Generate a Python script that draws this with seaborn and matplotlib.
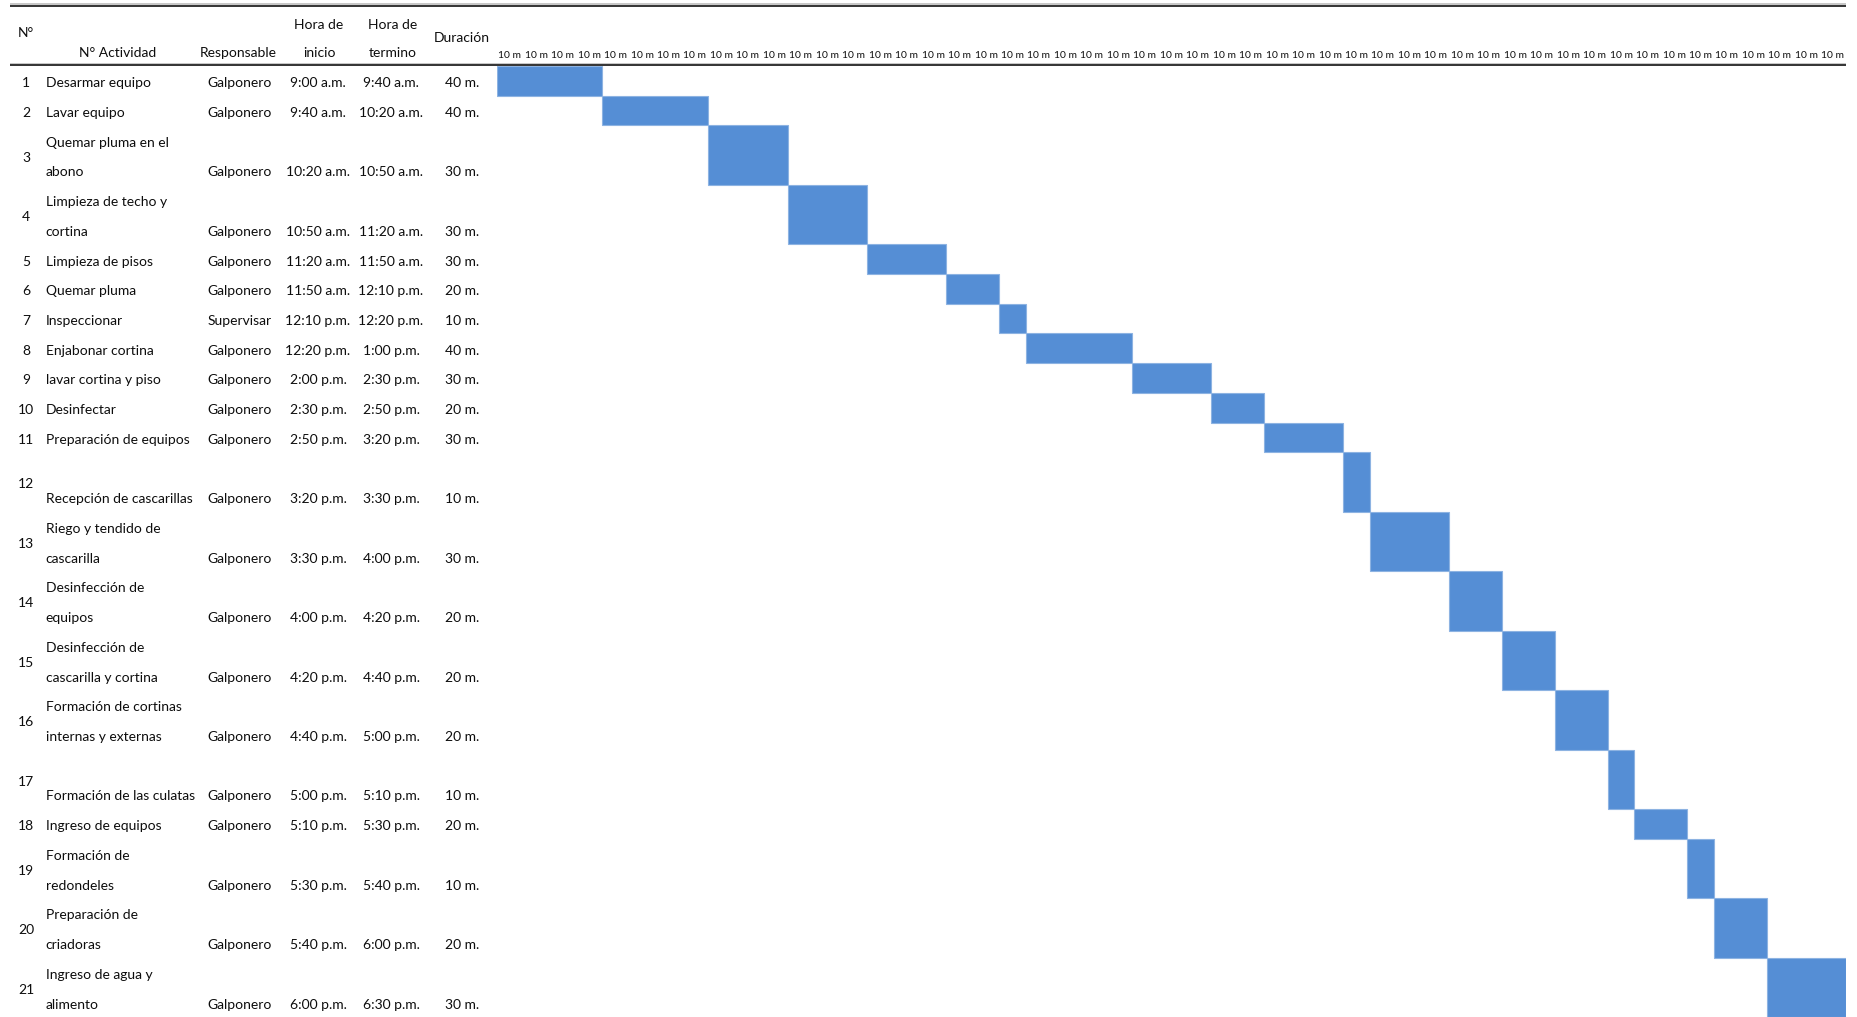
import matplotlib
matplotlib.use("Agg")
import matplotlib.pyplot as plt
import numpy as np
import seaborn as sns

# ---- schedule data -------------------------------------------------------
numeros = list(range(1, 22))
actividades = [
    "Desarmar equipo",
    "Lavar equipo",
    "Quemar pluma en el\nabono",
    "Limpieza de techo y\ncortina",
    "Limpieza de pisos",
    "Quemar pluma",
    "Inspeccionar",
    "Enjabonar cortina",
    "lavar cortina y piso",
    "Desinfectar",
    "Preparación de equipos",
    "\nRecepción de cascarillas",
    "Riego y tendido de\ncascarilla",
    "Desinfección de\nequipos",
    "Desinfección de\ncascarilla y cortina",
    "Formación de cortinas\ninternas y externas",
    "\nFormación de las culatas",
    "Ingreso de equipos",
    "Formación de\nredondeles",
    "Preparación de\ncriadoras",
    "Ingreso de agua y\nalimento",
]
responsables = ["Galponero"] * 6 + ["Supervisar"] + ["Galponero"] * 14
hora_inicio = [
    "9:00 a.m.", "9:40 a.m.", "10:20 a.m.", "10:50 a.m.", "11:20 a.m.",
    "11:50 a.m.", "12:10 p.m.", "12:20 p.m.", "2:00 p.m.", "2:30 p.m.",
    "2:50 p.m.", "3:20 p.m.", "3:30 p.m.", "4:00 p.m.", "4:20 p.m.",
    "4:40 p.m.", "5:00 p.m.", "5:10 p.m.", "5:30 p.m.", "5:40 p.m.",
    "6:00 p.m.",
]
hora_termino = [
    "9:40 a.m.", "10:20 a.m.", "10:50 a.m.", "11:20 a.m.", "11:50 a.m.",
    "12:10 p.m.", "12:20 p.m.", "1:00 p.m.", "2:30 p.m.", "2:50 p.m.",
    "3:20 p.m.", "3:30 p.m.", "4:00 p.m.", "4:20 p.m.", "4:40 p.m.",
    "5:00 p.m.", "5:10 p.m.", "5:30 p.m.", "5:40 p.m.", "6:00 p.m.",
    "6:30 p.m.",
]
duracion_min = [40, 40, 30, 30, 30, 20, 10, 40, 30, 20, 30,
                10, 30, 20, 20, 20, 10, 20, 10, 20, 30]
bloque_min = 10
etiqueta_bloque = "10 m"

# ---- styling ---------------------------------------------------------------
sns.set_theme(style="white")
plt.rcParams["font.family"] = ["Lato", "DejaVu Sans"]
TXT = "#0d0d0d"
BAR = "#558ED5"
FS = 10.0

W, H = 1857, 1017
fig = plt.figure(figsize=(W / 100, H / 100), dpi=100)
fig.patch.set_facecolor("white")

# row heights in text lines (wrapped rows take two lines)
lineas = [a.count("\n") + 1 for a in actividades]
total_lineas = sum(lineas)
row_top = np.concatenate([[0], np.cumsum(lineas)[:-1]])
row_center = row_top + np.array(lineas) / 2

top_px = 66
x_split = 496.5
x_end = 1846
body_h = (H - top_px) / H

# ---- Gantt area ------------------------------------------------------------
ax = fig.add_axes([x_split / W, 0, (x_end - x_split) / W, body_h])
total_min = sum(duracion_min)
inicio_min = np.concatenate([[0], np.cumsum(duracion_min)[:-1]])
ax.barh(row_center, duracion_min, left=inicio_min, height=lineas,
        color=BAR, edgecolor="#8DB3E2", linewidth=0.8)
ax.set_xlim(0, total_min)
ax.set_ylim(total_lineas, 0)
ax.set_yticks([])
ticks = np.arange(bloque_min / 2, total_min, bloque_min)
ax.xaxis.tick_top()
ax.set_xticks(ticks)
ax.set_xticklabels([etiqueta_bloque] * len(ticks), fontsize=7.4, color=TXT)
ax.tick_params(axis="x", length=0, pad=4)
for s in ax.spines.values():
    s.set_visible(False)
ax.set_facecolor("white")

# ---- table columns ---------------------------------------------------------
tx = fig.add_axes([0, 0, x_split / W, body_h], sharey=ax)
tx.set_xlim(0, x_split)
tx.axis("off")

dy = 0.08
for i in range(len(numeros)):
    top = row_top[i]
    n = lineas[i]
    tx.text(26, row_center[i] + dy, str(numeros[i]), ha="center", va="center",
            fontsize=FS, color=TXT)
    for k, linea in enumerate(actividades[i].split("\n")):
        if linea:
            tx.text(45.6, top + k + 0.5 + dy, linea, ha="left", va="center",
                    fontsize=FS, color=TXT)
    yb = top + n - 0.5 + dy
    tx.text(239.5, yb, responsables[i], ha="center", va="center", fontsize=FS, color=TXT)
    tx.text(318, yb, hora_inicio[i], ha="center", va="center", fontsize=FS, color=TXT)
    tx.text(391, yb, hora_termino[i], ha="center", va="center", fontsize=FS, color=TXT)
    tx.text(462.5, yb, f"{duracion_min[i]} m.", ha="center", va="center",
            fontsize=FS, color=TXT)

# ---- header ----------------------------------------------------------------
hx = fig.add_axes([0, body_h, 1, 1 - body_h])
hx.set_xlim(0, W)
hx.set_ylim(top_px, 0)
hx.axis("off")
hx.plot([10, x_end], [4.2, 4.2], color="#bdbdbd", lw=1.2, solid_capstyle="butt")
hx.plot([10, x_end], [5.6, 5.6], color="#333333", lw=1.4, solid_capstyle="butt")
hx.plot([10, x_end], [63.6, 63.6], color="#bdbdbd", lw=1.2, solid_capstyle="butt")
hx.plot([10, x_end], [65.0, 65.0], color="#333333", lw=1.4, solid_capstyle="butt")

hdr = dict(ha="center", va="center", fontsize=FS, color=TXT)
hx.text(26, 33, "N°", **hdr)
hx.text(118, 53, "N° Actividad", **hdr)
hx.text(238, 53, "Responsable", **hdr)
hx.text(319, 25, "Hora de", **hdr)
hx.text(319, 53, "inicio", **hdr)
hx.text(393, 25, "Hora de", **hdr)
hx.text(393, 53, "termino", **hdr)
hx.text(462, 38, "Duración", **hdr)

fig.savefig("out.png", dpi=100, facecolor="white")
